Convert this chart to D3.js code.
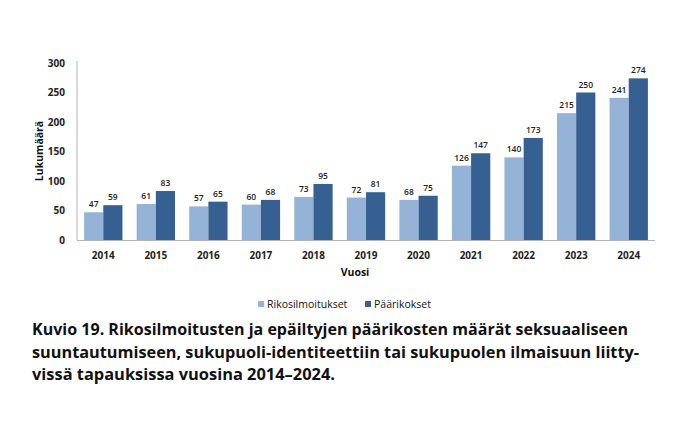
<!DOCTYPE html>
<html>
<head>
<meta charset="utf-8">
<script src="https://cdn.jsdelivr.net/npm/d3@7"></script>
<style>
  body { margin: 0; background: #fff; }
  text { font-family: "Open Sans", "DejaVu Sans", sans-serif; }
</style>
</head>
<body>
<div id="chart"></div>
<script>
// data
const years = ["2014", "2015", "2016", "2017", "2018", "2019", "2020", "2021", "2022", "2023", "2024"];
const rikosilmoitukset = [47, 61, 57, 60, 73, 72, 68, 126, 140, 215, 241];
const paarikokset = [59, 83, 65, 68, 95, 81, 75, 147, 173, 250, 274];
const seriesNames = ["Rikosilmoitukset", "Päärikokset"];
const yTicks = [0, 50, 100, 150, 200, 250, 300];
const captionLines = [
    "Kuvio 19. Rikosilmoitusten ja epäiltyjen päärikosten määrät seksuaaliseen",
    "suuntautumiseen, sukupuoli-identiteettiin tai sukupuolen ilmaisuun liitty-",
    "vissä tapauksissa vuosina 2014–2024."
];

const width = 687, height = 421;
const colors = ["#95b3d7", "#366092"];
const plotLeft = 77, plotRight = 655, plotTop = 63, plotBottom = 240;

let svg = d3.select("#chart")
    .append("svg")
    .attr("width", width)
    .attr("height", height);

const x = d3.scaleBand().domain(years).range([plotLeft, plotRight]).paddingInner(0.27).paddingOuter(0.135);
const x1 = d3.scaleBand().domain([0, 1]).range([0, x.bandwidth()]);
const y = d3.scaleLinear().domain([0, 300]).range([plotBottom, plotTop]);

// y tick labels
svg.append("g")
    .selectAll("text")
    .data(yTicks)
    .join("text")
    .attr("x", 65)
    .attr("y", d => y(d) + 3.5)
    .attr("text-anchor", "end")
    .attr("font-size", 10)
    .attr("font-weight", "bold")
    .attr("fill", "#222")
    .text(d => d);

// bars
const groups = svg.append("g")
    .selectAll("g")
    .data(years)
    .join("g")
    .attr("transform", d => "translate(" + x(d) + ",0)");

const serie = [rikosilmoitukset, paarikokset];
groups.selectAll("rect")
    .data((d, i) => serie.map((s, k) => ({ k: k, v: s[i] })))
    .join("rect")
    .attr("x", d => x1(d.k))
    .attr("y", d => y(d.v))
    .attr("width", x1.bandwidth())
    .attr("height", d => y(0) - y(d.v))
    .attr("fill", d => colors[d.k]);

// data labels
groups.selectAll("text")
    .data((d, i) => serie.map((s, k) => ({ k: k, v: s[i] })))
    .join("text")
    .attr("x", d => x1(d.k) + x1.bandwidth() / 2)
    .attr("y", d => y(d.v) - 5)
    .attr("text-anchor", "middle")
    .attr("font-size", 8.5)
    .attr("font-weight", 600)
    .attr("fill", "#222")
    .text(d => d.v);

// axis lines
svg.append("line")
    .attr("x1", plotLeft).attr("x2", plotLeft)
    .attr("y1", plotTop - 2).attr("y2", plotBottom)
    .attr("stroke", "#b3b3b3");
svg.append("line")
    .attr("x1", plotLeft).attr("x2", plotRight)
    .attr("y1", plotBottom + 0.5).attr("y2", plotBottom + 0.5)
    .attr("stroke", "#b3b3b3");

// x labels
svg.append("g")
    .selectAll("text")
    .data(years)
    .join("text")
    .attr("x", d => x(d) + x.bandwidth() / 2)
    .attr("y", 259)
    .attr("text-anchor", "middle")
    .attr("font-size", 10)
    .attr("font-weight", "bold")
    .attr("fill", "#222")
    .text(d => d);

// axis titles
svg.append("text")
    .attr("x", 355).attr("y", 276)
    .attr("text-anchor", "middle")
    .attr("font-size", 10.5)
    .attr("font-weight", "bold")
    .attr("fill", "#111")
    .text("Vuosi");

svg.append("text")
    .attr("transform", "translate(43,151) rotate(-90)")
    .attr("text-anchor", "middle")
    .attr("font-size", 10.5)
    .attr("font-weight", "bold")
    .attr("fill", "#111")
    .text("Lukumäärä");

// legend
const legendX = [258, 365];
const legend = svg.append("g")
    .selectAll("g")
    .data(seriesNames)
    .join("g")
    .attr("transform", (d, i) => "translate(" + legendX[i] + ",301)");
legend.append("rect")
    .attr("width", 6).attr("height", 6)
    .attr("fill", (d, i) => colors[i]);
legend.append("text")
    .attr("x", 9).attr("y", 6.5)
    .attr("font-size", 10.5)
    .attr("fill", "#111")
    .text(d => d);

// caption
const captionEnds = [628, 639, 335];
svg.append("g")
    .selectAll("text")
    .data(captionLines)
    .join("text")
    .attr("x", 32)
    .attr("y", (d, i) => 335 + i * 22.5)
    .attr("font-size", 15.5)
    .attr("font-weight", "bold")
    .attr("fill", "#111")
    .attr("textLength", (d, i) => captionEnds[i] - 32)
    .attr("lengthAdjust", "spacingAndGlyphs")
    .text(d => d);
</script>
</body>
</html>
